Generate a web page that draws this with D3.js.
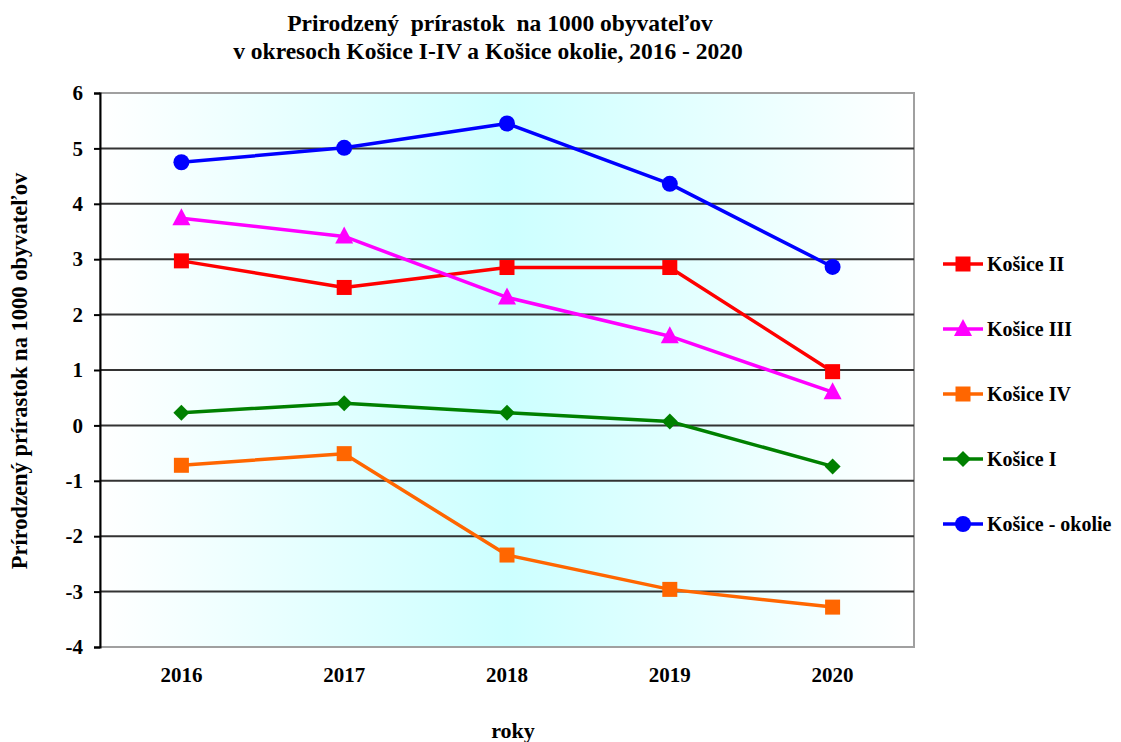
<!DOCTYPE html>
<html>
<head>
<meta charset="utf-8">
<script src="https://cdn.jsdelivr.net/npm/d3@7"></script>
<style>
  html, body { margin: 0; padding: 0; background: #fff; }
  svg { display: block; font-family: "Liberation Serif", "Times New Roman", serif; font-weight: bold; }
</style>
</head>
<body>
<svg id="chart" width="1121" height="742"></svg>
<script>
const years = ["2016", "2017", "2018", "2019", "2020"];
const yTicks = [6, 5, 4, 3, 2, 1, 0, -1, -2, -3, -4];
const kosice2 = [2.97, 2.49, 2.85, 2.85, 0.97];
const kosice3 = [3.74, 3.41, 2.31, 1.61, 0.6];
const kosice4 = [-0.72, -0.51, -2.34, -2.96, -3.28];
const kosice1 = [0.23, 0.4, 0.23, 0.07, -0.74];
const kosiceOkolie = [4.75, 5.01, 5.45, 4.36, 2.86];
const seriesNames = ["Košice II", "Košice III", "Košice IV", "Košice I", "Košice - okolie"];
const seriesColors = ["#ff0000", "#ff00ff", "#ff6600", "#008000", "#0000ff"];
const seriesMarkers = ["square", "triangle", "square", "diamond", "circle"];
const seriesValues = [kosice2, kosice3, kosice4, kosice1, kosiceOkolie];

const svg = d3.select("#chart");
const pL = 100, pR = 914, pT = 93, pB = 647;

const x = d3.scaleBand().domain(years).range([pL, pR]);
const y = d3.scaleLinear().domain([-4, 6]).range([pB, pT]);

// background gradient
const defs = svg.append("defs");
const grad = defs.append("linearGradient").attr("id", "bg").attr("x1", "0%").attr("x2", "100%").attr("y1", "0%").attr("y2", "0%");
grad.append("stop").attr("offset", "0%").attr("stop-color", "#ffffff");
grad.append("stop").attr("offset", "50%").attr("stop-color", "#ccffff");
grad.append("stop").attr("offset", "100%").attr("stop-color", "#ffffff");

svg.append("rect").attr("x", pL).attr("y", pT).attr("width", pR - pL).attr("height", pB - pT)
  .attr("fill", "url(#bg)").attr("stroke", "#a0a0a0").attr("stroke-width", 2);

// gridlines
svg.append("g").selectAll("line").data(yTicks.filter(d => d !== 6 && d !== -4)).join("line")
  .attr("x1", pL).attr("x2", pR).attr("y1", d => y(d)).attr("y2", d => y(d))
  .attr("stroke", "#333").attr("stroke-width", 2);

// y axis
const yAxis = svg.append("g").attr("transform", `translate(${pL},0)`)
  .call(d3.axisLeft(y).tickValues(yTicks).tickSize(6).tickPadding(11).tickFormat(d => String(d)));
yAxis.attr("font-size", null).attr("font-family", null);
yAxis.select(".domain").attr("stroke", "#000").attr("stroke-width", 2);
yAxis.selectAll(".tick line").attr("stroke", "#000").attr("stroke-width", 2);
yAxis.selectAll("text").attr("font-size", 21).attr("font-weight", "bold").attr("fill", "#000");

// x axis labels
const xAxis = svg.append("g").attr("transform", `translate(0,${pB})`)
  .call(d3.axisBottom(x).tickSize(0).tickPadding(20));
xAxis.attr("font-size", null).attr("font-family", null);
xAxis.select(".domain").remove();
xAxis.selectAll("text").attr("font-size", 21).attr("font-weight", "bold").attr("fill", "#000");

function marker(sel, type, color) {
  if (type === "circle") {
    sel.append("circle").attr("r", 8).attr("fill", color);
  } else if (type === "square") {
    sel.append("rect").attr("x", -7.5).attr("y", -7.5).attr("width", 15).attr("height", 15).attr("fill", color);
  } else if (type === "triangle") {
    sel.append("path").attr("d", "M0,-10 L9,7 L-9,7 Z").attr("fill", color);
  } else if (type === "diamond") {
    sel.append("path").attr("d", "M0,-8 L8,0 L0,8 L-8,0 Z").attr("fill", color);
  }
}

const line = d3.line().x((d, i) => x(years[i]) + x.bandwidth() / 2).y(d => y(d));

seriesValues.forEach((vals, si) => {
  const color = seriesColors[si];
  svg.append("path").datum(vals).attr("d", line).attr("fill", "none")
    .attr("stroke", color).attr("stroke-width", 3.5).attr("stroke-linejoin", "round");
  vals.forEach((v, i) => {
    const g = svg.append("g").attr("transform", `translate(${x(years[i]) + x.bandwidth() / 2},${y(v)})`);
    marker(g, seriesMarkers[si], color);
  });
});

// legend
const legendY = d3.scalePoint().domain(seriesNames).range([264, 524]);
seriesNames.forEach((name, si) => {
  const ly = legendY(name);
  svg.append("line").attr("x1", 943).attr("x2", 983).attr("y1", ly).attr("y2", ly)
    .attr("stroke", seriesColors[si]).attr("stroke-width", 3.5);
  const g = svg.append("g").attr("transform", `translate(963,${ly})`);
  marker(g, seriesMarkers[si], seriesColors[si]);
  svg.append("text").attr("x", 987).attr("y", ly).attr("dy", "0.35em")
    .attr("font-size", 20).attr("fill", "#000").text(name);
});

// title
svg.append("text").attr("x", 500).attr("y", 31).attr("text-anchor", "middle").attr("font-size", 23.5)
  .attr("xml:space", "preserve").text("Prirodzený  prírastok  na 1000 obyvateľov");
svg.append("text").attr("x", 488).attr("y", 59).attr("text-anchor", "middle").attr("font-size", 23.5)
  .text("v okresoch Košice I-IV a Košice okolie, 2016 - 2020");

// axis titles
svg.append("text").attr("transform", "translate(27,371) rotate(-90)").attr("text-anchor", "middle")
  .attr("font-size", 22.5).text("Prírodzený prírastok na 1000 obyvateľov");
svg.append("text").attr("x", 513).attr("y", 738).attr("text-anchor", "middle").attr("font-size", 22).text("roky");
</script>
</body>
</html>
